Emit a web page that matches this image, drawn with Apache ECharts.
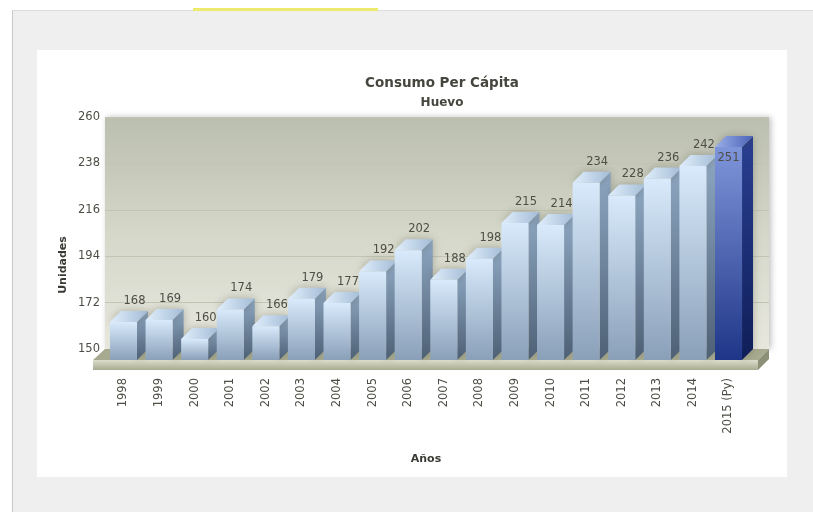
<!DOCTYPE html>
<html>
<head>
<meta charset="utf-8">
<script src="https://cdn.jsdelivr.net/npm/echarts@6/dist/echarts.min.js"></script>
<style>
  html, body { margin: 0; padding: 0; background: #ffffff; }
  #page { position: relative; width: 813px; height: 512px; overflow: hidden; background: #ffffff; }
  #gray { position: absolute; left: 12px; top: 10px; right: 0; bottom: 0; background: #efefef; border-left: 1px solid #c8c8c8; border-top: 1px solid #dcdcdc; }
  #yellow { position: absolute; left: 193px; top: 8px; width: 185px; height: 3px; background: #ecea6c; }
  #panel { position: absolute; left: 37px; top: 50px; width: 750px; height: 427px; background: #ffffff; }
  #chart { position: absolute; left: 0; top: 0; width: 813px; height: 512px; }
</style>
</head>
<body>
<div id="page">
  <div id="gray"></div>
  <div id="yellow"></div>
  <div id="panel"></div>
  <div id="chart"></div>
</div>
<script>
// ---- data ----
const years = ['1998','1999','2000','2001','2002','2003','2004','2005','2006','2007','2008','2009','2010','2011','2012','2013','2014','2015 (Py)'];
const values = [168,169,160,174,166,179,177,192,202,188,198,215,214,234,228,236,242,251];
const yMin = 150;
const yMax = 260;
const yStep = 22;
const titleText = 'Consumo Per Cápita';
const subtitleText = 'Huevo';
const xName = 'Años';
const yName = 'Unidades';
const highlightIndex = 17;

const chart = echarts.init(document.getElementById('chart'), null, { renderer: 'canvas' });
const LG = echarts.graphic.LinearGradient;
const FONT = '"DejaVu Sans", Verdana, sans-serif';
const DEPTH = 11;

const normal = {
  front: new LG(0, 0, 0, 1, [{offset: 0, color: '#d8eafb'}, {offset: 1, color: '#8aa0b9'}]),
  side: new LG(0, 0, 0, 1, [{offset: 0, color: '#8ea7c2'}, {offset: 1, color: '#4d6075'}]),
  top: new LG(0, 0, 1, 0, [{offset: 0, color: '#e0eefb'}, {offset: 1, color: '#a3bcd6'}])
};
const hi = {
  front: new LG(0, 0, 0, 1, [{offset: 0, color: '#7f95da'}, {offset: 1, color: '#1f3688'}]),
  side: new LG(0, 0, 0, 1, [{offset: 0, color: '#2a3f92'}, {offset: 1, color: '#0f1e58'}]),
  top: new LG(0, 0, 1, 0, [{offset: 0, color: '#9aaee6'}, {offset: 1, color: '#4a63b8'}])
};

function renderItem(params, api) {
  const i = params.dataIndex;
  const v = api.value(1);
  const topPt = api.coord([api.value(0), v]);
  const basePt = api.coord([api.value(0), yMin]);
  const bw = api.size([1, 0])[0] * 0.76;
  const d = DEPTH;
  const xc = topPt[0];
  const fl = xc - bw / 2, fr = xc + bw / 2;
  const ft = topPt[1] + d, fb = basePt[1] + d;
  const c = (i === highlightIndex) ? hi : normal;
  const shadow = { shadowBlur: 8, shadowColor: 'rgba(70,70,50,0.35)' };
  let lx = xc + d, ly = topPt[1] - 4, va = 'bottom';
  if (topPt[1] - 24 < params.coordSys.y) { lx = xc; ly = ft + 11; va = 'middle'; }
  return {
    type: 'group',
    children: [
      { type: 'polygon', shape: { points: [[fr, ft], [fr + d, ft - d], [fr + d, fb - d], [fr, fb]] }, style: Object.assign({ fill: c.side }, shadow) },
      { type: 'polygon', shape: { points: [[fl, ft], [fl + d, ft - d], [fr + d, ft - d], [fr, ft]] }, style: Object.assign({ fill: c.top }, shadow) },
      { type: 'rect', shape: { x: fl, y: ft, width: bw, height: fb - ft }, style: { fill: c.front } },
      { type: 'text', x: lx, y: ly, style: { text: String(v), align: 'center', verticalAlign: va, fill: '#4e4e46', font: '11.5px ' + FONT } }
    ]
  };
}

const option = {
  backgroundColor: 'transparent',
  animation: false,
  title: {
    text: titleText,
    subtext: subtitleText,
    left: 437,
    top: 70,
    textAlign: 'center',
    itemGap: 4,
    textStyle: { fontFamily: FONT, fontSize: 13.5, fontWeight: 'bold', color: '#46463e', lineHeight: 16 },
    subtextStyle: { fontFamily: FONT, fontSize: 12, fontWeight: 'bold', color: '#46463e', lineHeight: 16 }
  },
  graphic: [
    { type: 'polygon', z: 1, shape: { points: [[105, 349], [769, 349], [758, 360], [93, 360]] }, style: { fill: '#a7aa8f' } },
    { type: 'rect', z: 1, shape: { x: 93, y: 360, width: 665, height: 10 }, style: { fill: new LG(0, 0, 0, 1, [{offset: 0, color: '#dcdecc'}, {offset: 1, color: '#a8ab90'}]) } },
    { type: 'polygon', z: 1, shape: { points: [[758, 360], [769, 349], [769, 359], [758, 370]] }, style: { fill: '#8c9077' } },
    { type: 'text', z: 5, x: 63, y: 265, rotation: Math.PI / 2, style: { text: yName, align: 'center', verticalAlign: 'middle', fill: '#3a3a34', font: 'bold 11px ' + FONT } }
  ],
  grid: [
    { left: 105, top: 117, width: 664, height: 232, show: true, borderWidth: 0,
      backgroundColor: new LG(0, 0, 0, 1, [{offset: 0, color: '#bbbfaf'}, {offset: 0.5, color: '#d5d7c9'}, {offset: 1, color: '#e7e7de'}]),
      shadowBlur: 6, shadowColor: 'rgba(0,0,0,0.25)', shadowOffsetX: 2, shadowOffsetY: 0 },
    { left: 105.7, top: 117, width: 640.6, height: 232 }
  ],
  xAxis: [
    { gridIndex: 0, type: 'value', show: false, min: 0, max: 1 },
    { gridIndex: 1, type: 'category', data: years,
      axisLine: { show: false }, axisTick: { show: false },
      axisLabel: { rotate: 90, margin: 29, interval: 0, color: '#4e4e46', fontFamily: FONT, fontSize: 11.5 },
      name: xName, nameLocation: 'middle', nameGap: 105,
      nameTextStyle: { fontFamily: FONT, fontSize: 11, fontWeight: 'bold', color: '#3a3a34' } }
  ],
  yAxis: [
    { gridIndex: 0, type: 'value', min: yMin, max: yMax, interval: yStep,
      axisLine: { show: false }, axisTick: { show: false },
      axisLabel: { margin: 5, color: '#4e4e46', fontFamily: FONT, fontSize: 11.5 },
      splitLine: { show: true, lineStyle: { color: '#c2c5b2', width: 1 } } },
    { gridIndex: 1, type: 'value', min: yMin, max: yMax, interval: yStep, show: false, splitLine: { show: false } }
  ],
  series: [
    { type: 'custom', xAxisIndex: 1, yAxisIndex: 1, z: 3, clip: false,
      renderItem: renderItem,
      encode: { x: 0, y: 1 },
      data: values.map((v, i) => [i, v]) }
  ]
};
chart.setOption(option);
</script>
</body>
</html>
